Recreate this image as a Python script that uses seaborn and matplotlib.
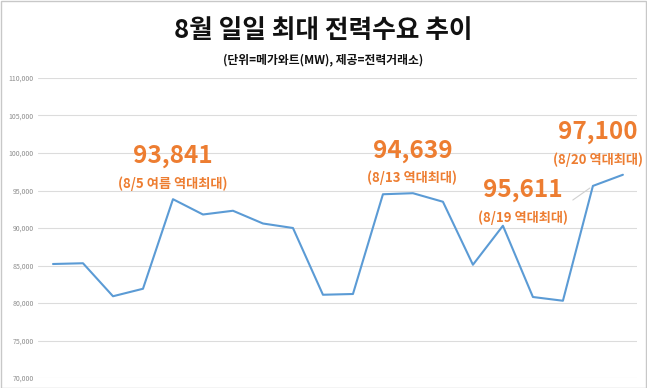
import matplotlib
matplotlib.use("Agg")
import matplotlib.pyplot as plt
import seaborn as sns
import pandas as pd
from matplotlib.patches import Rectangle

# ---- data ----
days = list(range(1, 21))
demand = [85200, 85300, 80900, 81900, 93841, 91800, 92300, 90600, 90000, 81100,
          81200, 94500, 94639, 93500, 85100, 90300, 80800, 80300, 95611, 97100]
yticks = [70000, 75000, 80000, 85000, 90000, 95000, 100000, 105000, 110000]
title = "8월 일일 최대 전력수요 추이"
subtitle = "(단위=메가와트(MW), 제공=전력거래소)"
ann_values = ["93,841", "94,639", "95,611", "97,100"]
ann_notes = ["(8/5 여름 역대최대)", "(8/13 역대최대)", "(8/19 역대최대)", "(8/20 역대최대)"]

sns.set_style("white")
plt.rcParams['font.family'] = ['Noto Sans CJK KR', 'DejaVu Sans']

df = pd.DataFrame({"day": days, "demand": demand})

fig = plt.figure(figsize=(6.47, 3.88), dpi=100)
ax = fig.add_axes([38/647, 1-378/388, 599/647, 300/388])

sns.lineplot(data=df, x="day", y="demand", ax=ax, color="#5B9BD5", linewidth=1.5)

ax.set_xlim(0.5, 20.47)
ax.set_ylim(70000, 110000)
ax.set_yticks(yticks)
ax.set_yticklabels([f"{v:,}" for v in yticks], fontsize=5, color="#8c8c8c")
ax.set_xticks([])
ax.set_xlabel("")
ax.set_ylabel("")
ax.tick_params(axis="y", length=0, pad=3)
ax.grid(axis="y", color="#dcdcdc", linewidth=0.8)
ax.set_axisbelow(True)
for s in ax.spines.values():
    s.set_visible(False)

orange = "#ED7D31"
# annotation positions (text placement)
val_pos = [(5.0, 99600), (13.0, 100270), (16.67, 95070), (19.17, 102800)]
note_pos = [(5.0, 95870), (12.97, 96670), (16.67, 91330), (19.17, 99070)]
for v, n, vp, np_ in zip(ann_values, ann_notes, val_pos, note_pos):
    ax.text(vp[0], vp[1], v, ha="center", va="center", fontsize=17.5,
            fontweight="bold", color=orange)
    ax.text(np_[0], np_[1], n, ha="center", va="center", fontsize=9.5,
            fontweight="bold", color=orange)

# small leader line
ax.plot([18.33, 18.9], [93730, 95330], color="#d0d0d0", linewidth=0.8)

fig.text(0.5, 1-30/388, title, ha="center", va="center", fontsize=18.5,
         fontweight="bold", color="#111111")
fig.text(0.5, 1-60/388, subtitle, ha="center", va="center", fontsize=8.5,
         fontweight="bold", color="#111111")

fig.patches.append(Rectangle((0.001, 0.001), 0.998, 0.997, transform=fig.transFigure,
                             fill=False, edgecolor="#c8c8c8", linewidth=1))

fig.savefig("out.png", dpi=100)
